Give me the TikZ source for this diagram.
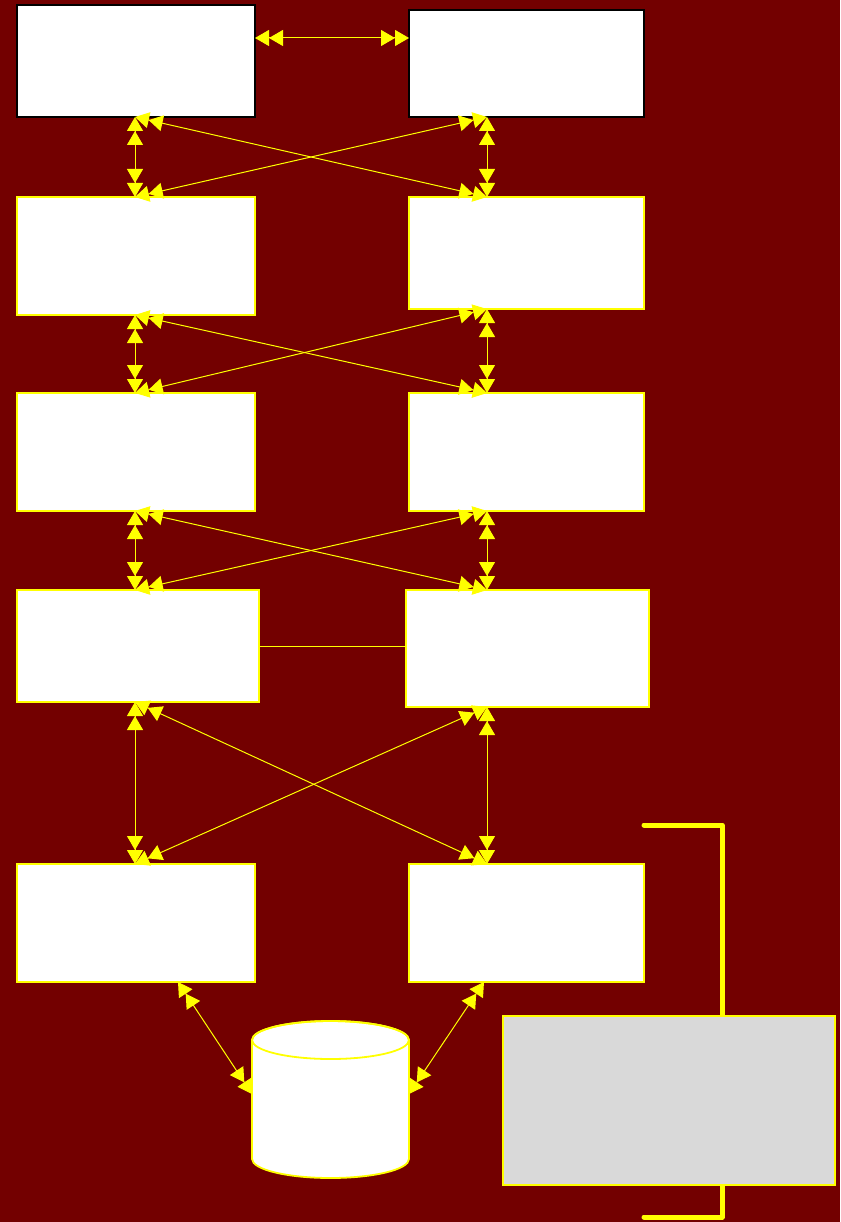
\documentclass[tikz,border=0pt]{standalone}
\usetikzlibrary{arrows.meta,calc}
\definecolor{bg}{RGB}{115,0,0}
\definecolor{ylw}{RGB}{255,255,0}
\definecolor{gry}{RGB}{217,217,217}
\begin{document}
\begin{tikzpicture}[x=1pt,y=-1pt,
  box/.style={draw=ylw, line width=1.8pt, fill=white, inner sep=0pt, outer sep=0pt, anchor=north west},
  topbox/.style={box, draw=black},
  link/.style={draw=ylw, line width=1pt,
    arrows={Triangle[length=14pt,width=16pt]Triangle[length=14pt,width=16pt]-Triangle[length=14pt,width=16pt]Triangle[length=14pt,width=16pt]}},
  plain/.style={draw=ylw, line width=1pt},
  bracket/.style={draw=ylw, line width=5pt, line cap=round, line join=round}]
\useasboundingbox (0,0) rectangle (840,1222);
\fill[bg] (0,0) rectangle (840,1222);

% boxes
\node[topbox, minimum width=238pt, minimum height=112pt] (b1) at (17,5) {};
\node[topbox, minimum width=235pt, minimum height=107pt] (b2) at (409,10) {};
\node[box, minimum width=238pt, minimum height=118pt] (b3) at (17,197) {};
\node[box, minimum width=235pt, minimum height=112pt] (b4) at (409,197) {};
\node[box, minimum width=238pt, minimum height=118pt] (b5) at (17,393) {};
\node[box, minimum width=235pt, minimum height=118pt] (b6) at (409,393) {};
\node[box, minimum width=242pt, minimum height=112pt] (b7) at (17,590) {};
\node[box, minimum width=243pt, minimum height=117pt] (b8) at (406,590) {};
\node[box, minimum width=238pt, minimum height=118pt] (b9) at (17,864) {};
\node[box, minimum width=235pt, minimum height=118pt] (b10) at (409,864) {};

% helper coordinates
\coordinate (L) at (135,0);
\coordinate (R) at (487,0);
\coordinate (T) at (0,38);
\coordinate (M) at (0,646);
\coordinate (BL) at (178,0);
\coordinate (BR) at (484,0);

% connectors
\draw[link] (b1.east |- T) -- (b2.west |- T);
\draw[link] (b1.south -| L) -- (b3.north -| L);
\draw[link] (b2.south -| R) -- (b4.north -| R);
\draw[link] (b1.south -| L) -- (b4.north -| R);
\draw[link] (b3.north -| L) -- (b2.south -| R);

\draw[link] (b3.south -| L) -- (b5.north -| L);
\draw[link] (b4.south -| R) -- (b6.north -| R);
\draw[link] (b3.south -| L) -- (b6.north -| R);
\draw[link] (b5.north -| L) -- (b4.south -| R);

\draw[link] (b5.south -| L) -- (b7.north -| L);
\draw[link] (b6.south -| R) -- (b8.north -| R);
\draw[link] (b5.south -| L) -- (b8.north -| R);
\draw[link] (b7.north -| L) -- (b6.south -| R);

\draw[plain] (b7.east |- M) -- (b8.west |- M);

\draw[link] (b7.south -| L) -- (b9.north -| L);
\draw[link] (b8.south -| R) -- (b10.north -| R);
\draw[link] (b7.south -| L) -- (b10.north -| R);
\draw[link] (b9.north -| L) -- (b8.south -| R);

% cylinder
\coordinate (cyltop) at (330.5,1040);
\coordinate (cl) at (252,1094);
\coordinate (cr) at (409,1094);
\filldraw[fill=white, draw=ylw, line width=1.8pt]
  (252,1040) -- (252,1159) arc[start angle=180, end angle=0, x radius=78.5, y radius=19]
  -- (409,1040) arc[start angle=0, end angle=-180, x radius=78.5, y radius=19] -- cycle;
\draw[ylw, line width=1.8pt] (cyltop) ellipse[x radius=78.5, y radius=19];

\draw[link] (b9.south -| BL) -- (cl);
\draw[link] (b10.south -| BR) -- (cr);

% bracket and grey box
\coordinate (k1) at (644,825);
\coordinate (k2) at (722,825);
\coordinate (k3) at (722,1217);
\coordinate (k4) at (644,1217);
\draw[bracket] (k1) -- (k2) -- (k3) -- (k4);
\node[box, fill=gry, minimum width=332pt, minimum height=169pt] (g) at (503,1016) {};
\end{tikzpicture}
\end{document}
